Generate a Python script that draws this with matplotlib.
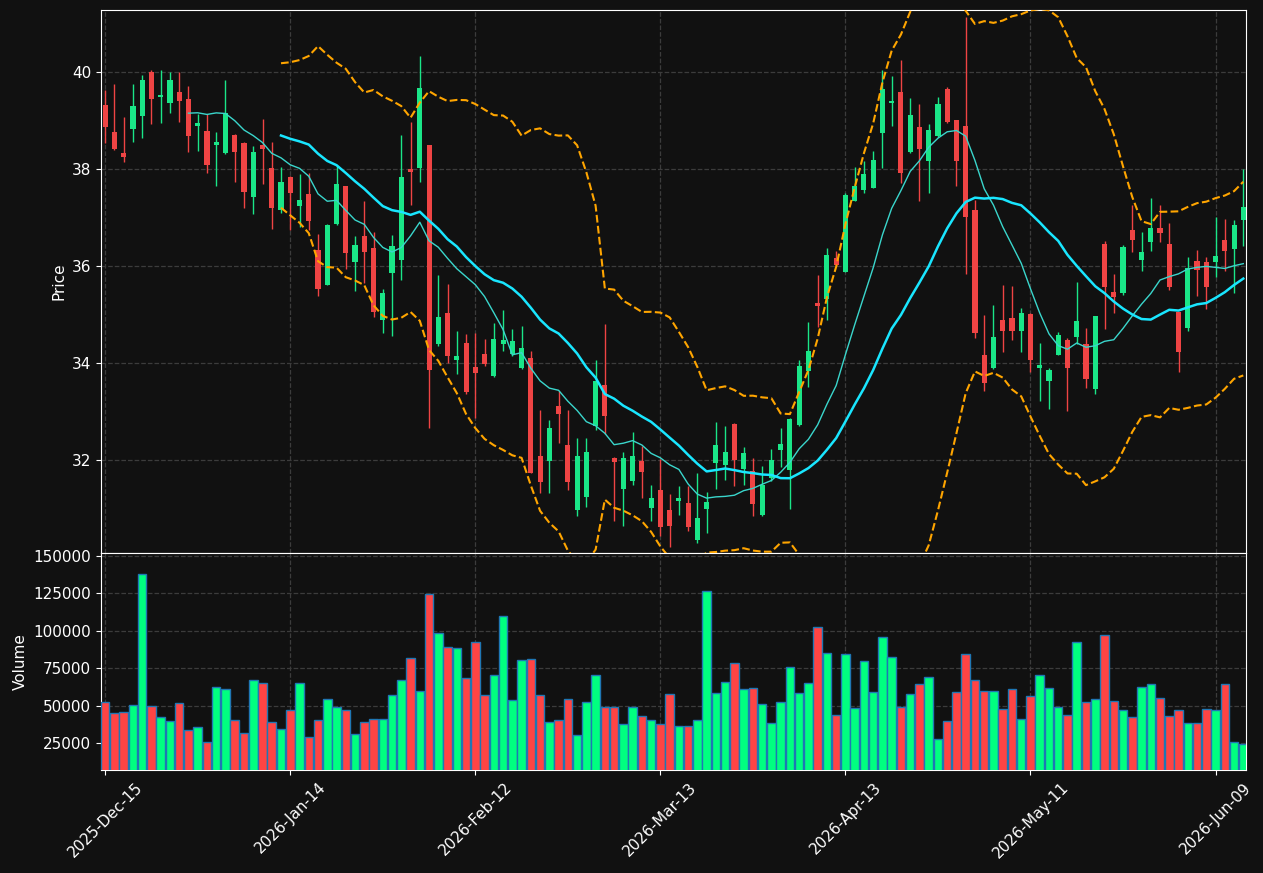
import matplotlib
matplotlib.use('Agg')
import matplotlib.pyplot as plt
import numpy as np
import pandas as pd

# Date labels, one every 20 trading sessions
tick_positions = [0, 20, 40, 60, 80, 100, 120]
tick_labels = ['2025-Dec-15', '2026-Jan-14', '2026-Feb-12', '2026-Mar-13',
               '2026-Apr-13', '2026-May-11', '2026-Jun-09']

# Daily OHLC
opens = [39.31, 38.77, 38.32, 38.82, 39.09, 40.00, 39.49, 39.37, 39.59, 39.45,
         38.88, 38.79, 38.49, 38.33, 38.71, 38.54, 37.42, 38.50, 38.01, 37.16,
         37.84, 37.24, 37.49, 36.33, 35.61, 36.86, 37.64, 36.09, 36.61, 36.36,
         34.89, 35.86, 36.13, 37.99, 38.01, 38.49, 34.40, 35.03, 34.05, 34.41,
         33.92, 34.19, 33.72, 34.40, 34.19, 33.89, 34.11, 32.09, 31.98, 33.11,
         32.31, 30.97, 31.23, 32.69, 33.55, 32.03, 31.40, 31.56, 31.97, 31.01,
         31.37, 30.96, 31.15, 31.11, 30.35, 30.99, 31.94, 31.89, 32.75, 31.81,
         31.77, 30.86, 31.63, 32.20, 31.79, 32.71, 33.84, 35.24, 35.31, 36.17,
         35.88, 37.34, 37.56, 37.61, 38.74, 39.37, 39.59, 38.34, 38.87, 38.16,
         38.67, 39.64, 39.01, 38.89, 37.15, 34.16, 33.89, 34.89, 34.93, 34.66,
         35.01, 33.89, 33.62, 34.17, 34.48, 34.54, 34.39, 33.46, 36.45, 35.46,
         35.45, 36.74, 36.13, 36.50, 36.78, 36.45, 35.05, 34.71, 36.10, 36.08,
         36.09, 36.53, 36.35, 36.95]
highs = [39.63, 39.75, 39.07, 39.75, 39.94, 40.04, 40.04, 39.99, 39.99, 39.71,
         39.14, 39.14, 38.76, 39.83, 38.72, 38.55, 38.48, 39.03, 38.56, 38.04,
         37.85, 37.89, 37.92, 36.65, 36.86, 38.07, 37.65, 36.61, 37.33, 36.69,
         35.52, 36.63, 38.71, 38.97, 40.34, 38.50, 35.81, 35.62, 34.65, 34.59,
         34.61, 34.49, 34.83, 35.10, 34.69, 34.76, 34.24, 33.03, 32.82, 33.43,
         33.03, 32.46, 32.46, 34.06, 34.81, 32.05, 32.16, 32.58, 32.29, 31.49,
         32.02, 31.29, 31.47, 31.47, 31.73, 31.34, 32.79, 32.70, 32.76, 32.27,
         32.04, 31.88, 32.23, 32.66, 32.86, 34.06, 34.84, 35.82, 36.38, 36.31,
         37.51, 38.04, 38.17, 38.38, 40.04, 39.92, 40.24, 39.46, 39.34, 38.93,
         39.49, 39.69, 39.02, 41.13, 37.35, 34.98, 35.19, 35.60, 35.58, 35.13,
         35.02, 34.41, 33.90, 34.64, 34.52, 35.66, 34.71, 34.97, 36.51, 35.84,
         36.44, 37.26, 36.69, 37.41, 37.26, 36.89, 35.06, 36.18, 36.33, 36.19,
         37.01, 36.96, 36.94, 38.00]
lows = [38.54, 38.40, 38.14, 38.56, 38.64, 38.93, 38.95, 39.15, 38.97, 38.34,
        38.37, 37.92, 37.64, 38.30, 37.74, 37.20, 37.08, 37.70, 36.77, 37.10,
        36.74, 36.81, 36.74, 35.37, 35.60, 36.85, 35.94, 35.48, 35.65, 34.94,
        34.61, 34.55, 35.71, 37.26, 37.74, 32.66, 34.34, 33.99, 33.77, 33.35,
        32.86, 33.94, 33.71, 34.24, 34.15, 33.88, 31.72, 31.31, 31.31, 32.34,
        31.38, 30.85, 31.03, 32.61, 32.54, 30.73, 30.64, 31.49, 31.21, 30.73,
        30.42, 30.20, 30.87, 30.54, 30.28, 30.49, 31.39, 31.58, 31.47, 31.49,
        30.84, 30.85, 31.56, 31.85, 30.99, 32.70, 33.50, 34.74, 34.89, 36.00,
        35.87, 37.33, 37.51, 37.60, 38.01, 38.89, 37.71, 38.33, 37.34, 37.51,
        38.66, 38.94, 37.65, 35.84, 34.51, 33.42, 33.88, 34.23, 34.47, 34.23,
        33.81, 33.21, 33.04, 34.16, 33.00, 34.40, 33.49, 33.36, 34.70, 35.02,
        35.40, 36.28, 35.89, 36.30, 36.49, 35.50, 33.81, 34.66, 35.39, 35.12,
        35.77, 35.90, 35.45, 36.41]
closes = [38.86, 38.42, 38.24, 39.29, 39.84, 39.44, 39.50, 39.84, 39.41, 38.67,
          38.94, 38.08, 38.56, 39.16, 38.36, 37.52, 38.34, 38.41, 37.19, 37.74,
          37.50, 37.35, 36.93, 35.53, 36.84, 37.70, 36.27, 36.43, 36.29, 35.04,
          35.44, 36.41, 37.84, 37.94, 39.66, 33.86, 34.95, 34.14, 34.15, 33.39,
          33.79, 33.97, 34.49, 34.47, 34.46, 34.31, 31.73, 31.54, 32.65, 32.94,
          31.54, 32.07, 32.17, 33.63, 32.90, 31.96, 32.04, 32.07, 31.75, 31.21,
          30.62, 30.64, 31.21, 30.62, 30.81, 31.14, 32.30, 32.17, 31.99, 32.15,
          31.09, 31.49, 31.99, 32.32, 32.85, 33.94, 34.25, 35.17, 36.22, 36.02,
          37.46, 37.64, 37.89, 38.19, 39.64, 39.41, 37.91, 39.12, 38.41, 38.81,
          39.33, 38.96, 38.16, 37.01, 34.62, 33.58, 34.54, 34.66, 34.66, 35.03,
          34.07, 33.96, 33.86, 34.58, 33.89, 34.86, 33.66, 34.97, 35.57, 35.36,
          36.40, 36.54, 36.28, 36.78, 36.68, 35.56, 34.23, 35.96, 35.92, 35.56,
          36.20, 36.31, 36.84, 37.21]
volumes = [52300, 45000, 45700, 50300, 137600, 49700, 42300, 39700, 51700, 33700,
           35700, 25700, 62300, 61000, 40300, 31900, 67000, 65000, 39000, 34300,
           47000, 65000, 29000, 40300, 54300, 49000, 47000, 31000, 39000, 41000,
           41000, 57000, 67000, 81700, 59700, 124300, 98300, 89000, 88300, 68300,
           92300, 57000, 70300, 109700, 53700, 80300, 81000, 57000, 39000, 40300,
           54300, 30300, 52300, 70300, 49000, 49000, 37700, 49000, 43000, 40300,
           37700, 57700, 36300, 36300, 40300, 126300, 58300, 65700, 78300, 61000,
           61700, 51000, 38300, 52300, 75700, 58300, 65000, 102300, 85000, 43700,
           84300, 48300, 79700, 59000, 95700, 82300, 49000, 57700, 64300, 69000,
           27700, 39700, 59000, 84300, 67000, 59700, 59700, 47700, 61000, 41000,
           56300, 70300, 61700, 49000, 43700, 92300, 52300, 54300, 97000, 53000,
           47000, 42300, 62300, 64300, 55000, 43000, 47000, 38300, 38300, 47700,
           47000, 64300, 25700, 24300]

BG = '#111111'
UP = '#1ae688'
DOWN = '#ef4444'
VOL_UP = '#00ff80'
VOL_DOWN = '#ff4444'


def style_axis(ax: plt.Axes) -> None:
    '''Dark theme for one panel'''
    ax.set_facecolor(BG)
    for spine in ax.spines.values():
        spine.set_color('white')
    ax.tick_params(colors='white', labelsize=11)
    ax.grid(True, linestyle='--', color='#3c3c3c', linewidth=0.9)
    ax.set_axisbelow(True)


def plot_candles(ax: plt.Axes, o: np.ndarray, h: np.ndarray, l: np.ndarray, c: np.ndarray) -> None:
    '''Draws wicks and bodies, green when close >= open'''
    x = np.arange(len(c))
    colors = np.where(c >= o, UP, DOWN)
    ax.vlines(x, l, h, colors=colors, linewidth=1, zorder=2)
    body = np.maximum(np.abs(c - o), 0.04)
    ax.bar(x, body, bottom=np.minimum(o, c), width=0.55, color=colors, zorder=3)


df = pd.DataFrame({'Open': opens, 'High': highs, 'Low': lows, 'Close': closes, 'Volume': volumes})
x = np.arange(len(df))

# Indicators
mav10 = df['Close'].rolling(10).mean()
mav20 = df['Close'].rolling(20).mean()
std20 = df['Close'].rolling(20).std()
upper = mav20 + 2 * std20
lower = mav20 - 2 * std20

fig = plt.figure(figsize=(12.63, 8.73), dpi=100, facecolor=BG)
ax_price = fig.add_axes([0.0800, 0.3666, 0.9066, 0.6220])
ax_vol = fig.add_axes([0.0800, 0.1180, 0.9066, 0.2486], sharex=ax_price)

# Price panel
style_axis(ax_price)
plot_candles(ax_price, df['Open'].values, df['High'].values, df['Low'].values, df['Close'].values)
ax_price.plot(x, mav10, color='#3ad6cc', linewidth=1, zorder=4)
ax_price.plot(x, mav20, color='#19e6ff', linewidth=1.8, zorder=4)
ax_price.plot(x, upper, color='orange', linestyle='--', linewidth=1.5, zorder=4)
ax_price.plot(x, lower, color='orange', linestyle='--', linewidth=1.5, zorder=4)
ax_price.set_ylim(30.08, 41.28)
ax_price.set_yticks([32, 34, 36, 38, 40])
ax_price.set_ylabel('Price', color='white', fontsize=11)
ax_price.tick_params(axis='x', labelbottom=False, length=0)

# Volume panel
style_axis(ax_vol)
vol_colors = np.where(df['Close'] >= df['Open'], VOL_UP, VOL_DOWN)
ax_vol.bar(x, df['Volume'], width=0.92, color=vol_colors, edgecolor='#1f77b4', linewidth=1, zorder=3)
ax_vol.set_ylim(7200, 151900)
ax_vol.set_yticks([25000, 50000, 75000, 100000, 125000, 150000])
ax_vol.set_yticklabels([str(v) for v in [25000, 50000, 75000, 100000, 125000, 150000]])
ax_vol.set_ylabel('Volume', color='white', fontsize=11)
ax_vol.set_xticks(tick_positions)
ax_vol.set_xticklabels(tick_labels, rotation=45)
ax_vol.set_xlim(-0.45, 123.3)

plt.savefig('out.png', dpi=100, facecolor=BG)
